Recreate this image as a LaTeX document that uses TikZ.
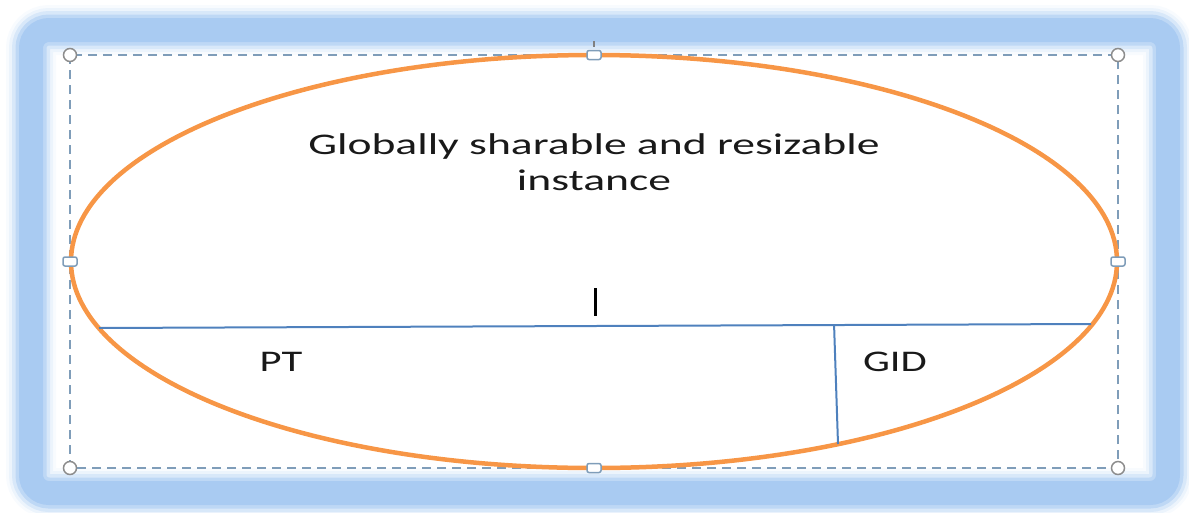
\documentclass[tikz,border=0pt]{standalone}
\usepackage{fontspec}
\setmainfont{Carlito}
\usetikzlibrary{shapes.geometric,calc}
\definecolor{glowblue}{RGB}{169,203,242}
\definecolor{shapeorange}{RGB}{247,150,70}
\definecolor{lineblue}{RGB}{79,129,189}
\definecolor{handlegray}{RGB}{127,157,185}
\newcommand{\wide}[2][1.42]{\scalebox{#1}[1]{#2}}

\begin{document}
\begin{tikzpicture}[x=1pt,y=-1pt,
  cornerhandle/.style={draw=gray!90,fill=white,line width=1.5pt,circle,inner sep=0pt,minimum size=13pt},
  sidehandle/.style={draw=handlegray,fill=white,line width=1.5pt,rounded corners=2pt,inner sep=0pt,minimum width=14pt,minimum height=9pt},
  lbl/.style={font=\fontsize{30}{36}\selectfont,text=black!90,align=center,inner sep=0pt}]
  \useasboundingbox (0,0) rectangle (1189,512);
  % glow frame
  \foreach \w/\o in {50/0.08,44/0.15,38/0.3,31/0.55,24/1}
    \draw[glowblue,line width=\w pt,opacity=\o,rounded corners=18pt] (31,30) rectangle (1168,493);
  % selection frame
  \draw[handlegray,line width=1.4pt,dash pattern=on 9pt off 6pt] (70,55) rectangle (1118,468);
  \draw[gray,line width=1.2pt] (594,41) -- (594,47);
  % instance
  \node[draw=shapeorange,line width=4.5pt,ellipse,minimum width=1046pt,minimum height=413pt,
        inner sep=0pt,outer sep=0pt] (inst) at (594,261.5) {};
  \coordinate (divL) at (99,328);
  \coordinate (divR) at (1091,324);
  \coordinate (splitT) at ($(divL)!0.741!(divR)$);
  \coordinate (splitB) at (838,444);
  \draw[lineblue,line width=2pt] (divL) -- (divR);
  \draw[lineblue,line width=2pt] (splitT) -- (splitB);
  % cursor
  \draw[black,line width=3pt] (595,288) -- (595,316);
  % labels
  \node[lbl] (title) at (594,162) {\wide[1.52]{Globally sharable and resizable}\\\wide[1.52]{instance}};
  \node[lbl] (pt) at (281,362) {\wide{PT}};
  \node[lbl] (gid) at (895,362) {\wide{GID}};
  % handles
  \foreach \x/\y/\n in {70/55/nw,1118/55/ne,70/468/sw,1118/468/se}
    \node[cornerhandle] (h\n) at (\x,\y) {};
  \foreach \x/\y/\n in {594/55/n,594/468/s,70/261.5/w,1118/261.5/e}
    \node[sidehandle] (h\n) at (\x,\y) {};
\end{tikzpicture}
\end{document}
